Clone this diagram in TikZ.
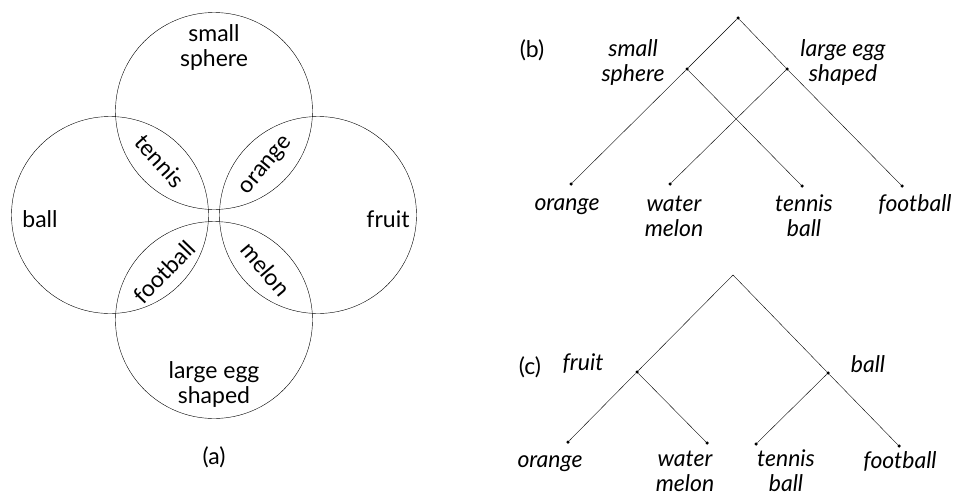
\documentclass[tikz,border=0pt]{standalone}
\usepackage{fontspec}
\setmainfont{Lato}
\usetikzlibrary{positioning}

\begin{document}
\begin{tikzpicture}[x=1pt,y=-1pt,
    dot/.style={circle,fill=black,inner sep=0pt,minimum size=3.5pt},
    lab/.style={font=\fontsize{23}{25}\selectfont,align=center,inner sep=0pt},
    tlab/.style={lab,font=\fontsize{23}{25}\selectfont\itshape}]
\useasboundingbox (0,0) rectangle (958,496);

% (a)
\draw (214,111) circle [radius=98.5pt];
\draw (110,215) circle [radius=98.5pt];
\draw (318,215) circle [radius=98.5pt];
\draw (214,320) circle [radius=98.5pt];
\node[lab] (sphl) at (214,47) {small\\sphere};
\node[lab] (ball) at (40,219) {ball};
\node[lab] (frul) at (388,219) {fruit};
\node[lab] (eggl) at (214,384) {large egg\\shaped};
\node[lab,rotate=-48] (ten) at (160,161) {tennis};
\node[lab,rotate=50] (ora) at (267,166) {orange};
\node[lab,rotate=46] (foo) at (164,272) {football};
\node[lab,rotate=-50] (mel) at (266,269) {melon};
\node[lab] (capa) at (214,457) {(a)};

% (b)
\node[dot] (b0) at (738,18) {};
\node[dot] (b1) at (687,69) {};
\node[dot] (b2) at (787,69) {};
\node[dot] (b3) at (571,184) {};
\node[dot] (b4) at (670,184) {};
\node[dot] (b5) at (802,186) {};
\node[dot] (b6) at (902,186) {};
\draw (b0) -- (b1) -- (b3);
\draw (b1) -- (b5);
\draw (b0) -- (b2) -- (b6);
\draw (b2) -- (b4);
\node[lab] (capb) at (532,50) {(b)};
\node[tlab] (b1l) at (633,62) {small\\sphere};
\node[tlab] (b2l) at (843,62) {large egg\\shaped};
\node[tlab] (b3l) at (567,207) {orange};
\node[tlab] (b4l) at (674,216) {water\\melon};
\node[tlab] (b5l) at (804,216) {tennis\\ball};
\node[tlab] (b6l) at (915,204) {football};

% (c)
\coordinate (c0) at (733,275);
\node[dot] (c1) at (637,372) {};
\node[dot] (c2) at (828,373) {};
\node[dot] (c3) at (568,442) {};
\node[dot] (c4) at (707,443) {};
\node[dot] (c5) at (756,444) {};
\node[dot] (c6) at (899,446) {};
\draw (c0) -- (c1) -- (c3);
\draw (c1) -- (c4);
\draw (c0) -- (c2) -- (c6);
\draw (c2) -- (c5);
\node[lab] (capc) at (530,367) {(c)};
\node[tlab] (c1l) at (583,364) {fruit};
\node[tlab] (c2l) at (868,364) {ball};
\node[tlab] (c3l) at (550,464) {orange};
\node[tlab] (c4l) at (685,471) {water\\melon};
\node[tlab] (c5l) at (786,471) {tennis\\ball};
\node[tlab] (c6l) at (900,461) {football};
\end{tikzpicture}
\end{document}
